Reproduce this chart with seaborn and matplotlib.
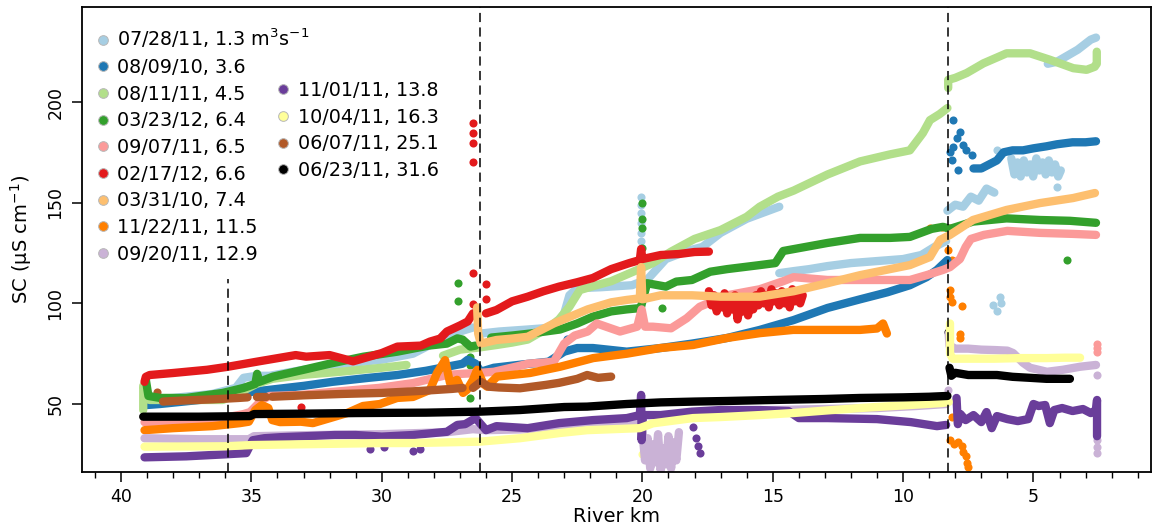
import numpy as np
import pandas as pd
import matplotlib
matplotlib.use("Agg")
import matplotlib.pyplot as plt
from matplotlib.lines import Line2D
import seaborn as sns

NaN = np.nan

# Survey dates and discharge (m3/s) for each longitudinal SC profile
survey_dates = ["07/28/11", "08/09/10", "08/11/11", "03/23/12", "09/07/11", "02/17/12",
                "03/31/10", "11/22/11", "09/20/11", "11/01/11", "10/04/11", "06/07/11", "06/23/11"]
discharge = ["1.3", "3.6", "4.5", "6.4", "6.5", "6.6", "7.4", "11.5", "12.9", "13.8", "16.3", "25.1", "31.6"]

# Profiles: river km and specific conductance (uS/cm); NaN separates gaps in a survey
lblue_km = [39.1, 38.0, 36.5, 35.6, 35.3, 34.8, 34.3, 33.0, 31.5, 30.0, 28.8, 27.6, 27.0, 26.5, NaN,
            26.2, 25.5, 24.4, 23.4, 23.0, 22.8, 22.5, 21.6, 20.4, 19.8, 19.1, 18.3, 17.7, 17.0, 16.0, 14.75, NaN,
            14.75, 14.2, 13.6, 12.9, 12.0, 11.0, 10.0, 9.3, 8.8, 8.35, NaN,
            8.3, 8.0, 7.7, 7.4, 7.1, 6.8, 6.5, NaN,
            5.85, 5.73, 5.61, 5.49, 5.37, 5.25, 5.13, 5.01, 4.89, 4.77, 4.65, 4.53, 4.41, 4.29, 4.17,
            4.05, 3.95, NaN,
            4.45, 4.1, 3.7, 3.3, 3.0, 2.8, 2.6]
lblue_sc = [52, 53, 55, 58, 63, 64, 64, 67, 70, 72, 75, 83, 86, 88, NaN,
            85, 86, 87, 88, 95, 104, 107.5, 108, 109, 112, 122, 126, 128, 135, 142, 148, NaN,
            115, 116, 117, 118.5, 120, 121, 122, 124, 128, 131, NaN,
            146, 149, 148, 153, 151, 157, 155, NaN,
            172, 164, 170, 163, 171, 165, 169, 163, 172, 166, 170, 164, 171, 165, 169,
            163, 166, NaN,
            219, 220, 223, 226, 229, 231, 232]
lblue_pts_km = [20.05, 20.05, 20.05, 20.05, 20.05, 20.05, 6.4, 4.1, 6.55, 6.4, 6.25, 6.3]
lblue_pts_sc = [153, 149, 145, 140, 135, 131, 176, 158, 99, 96, 100, 103]

blue_km = [39.0, 38.5, 37.0, 35.9, 35.0, 34.0, 33.0, 31.9, 30.5, 29.4, 28.3, 27.5, 26.9, 26.7, 26.4, 26.2,
           25.7, 24.7, 23.6, 23.0, 22.5, 21.9, 20.6, 19.3, 18.1, 16.75, 15.5, 14.2, 12.9, 11.65, 10.6, 9.74,
           9.1, 8.7, 8.3, NaN,
           7.3, 7.0, 6.7, 6.4, 6.15, 5.8, 5.4, 5.0, 4.5, 4.1, 3.5, 3.0, 2.6]
blue_sc = [49.5, 50, 52, 53, 56, 57.5, 59, 61, 63, 64.4, 66.5, 68.5, 70, 72, 70, 66,
           68, 69.5, 71, 76, 77.8, 77.8, 76, 77.8, 80, 82.8, 86.8, 91.7, 97.7, 102, 105.5, 109,
           113, 116.6, 121.5, NaN,
           167, 167, 169, 171, 175, 176, 176, 177, 178, 179, 180, 180, 180.5]
blue_pts_km = [22.9, 23.15, 8.09, 7.82, 8.09, 7.7, 8.12, 7.89, 7.36, 7.95, 7.6, 8.2]
blue_pts_sc = [82.5, 76, 191, 185.3, 177.8, 178.5, 171, 166, 173.7, 182, 176, 175]

lgreen_km = [39.15, 39.15, 38.9, 37.5, 36.1, 35.4, 34.8, 34.2, 33.0, 31.6, 30.0, 29.05, NaN,
             27.65, 27.0, 26.3, 25.6, 25.0, 24.4, 23.6, 23.2, 22.8, 22.4, 21.9, 21.2, 20.3, 19.6, 18.9,
             18.0, 17.0, 16.0, 15.5, 14.8, 14.2, 12.9, 11.65, 10.5, 9.74, 9.24, 8.97, 8.6, 8.3, NaN,
             8.27, 8.27, 8.0, 7.56, 6.92, 6.03, 5.13, 4.37, 3.47, 2.96, 2.65, 2.57, 2.57]
lgreen_sc = [47, 59, 52, 52, 52, 56, 60, 62.5, 64.5, 66, 68, 69.4, NaN,
             74, 77, 78, 79.3, 80.5, 82, 88, 92, 98.3, 106.6, 108.5, 111, 116, 120, 125.7,
             132, 136.4, 143, 148, 153, 156, 164, 170.5, 174, 176, 184.6, 191, 194, 197, NaN,
             207, 211, 212, 214.4, 219.2, 224.2, 224.2, 221, 216.8, 216, 217.5, 219, 225]

green_km = [39.05, 38.95, 38.5, 37.5, 36.1, 35.3, 34.85, 34.78, 34.7, 34.17, 33.0, 32.0, 30.7, 29.4, 28.2,
            27.5, 27.1, 26.9, 26.6, 26.4, NaN,
            25.8, 25.0, 24.3, 23.16, 22.5, 21.9, 21.2, 20.6, 20.2, 20.08, 19.82, 19.1, 18.7, 18.1, 17.4,
            16.75, 15.5, 14.9, 14.6, 12.9, 11.65, 10.5, 9.74, 8.9, 8.47, 8.2, 7.32, 6.03, 4.75, 3.6, 2.6]
green_sc = [62, 54, 53, 53, 55.5, 58, 60, 65, 61, 63.6, 67, 70, 73.5, 76, 79,
            80, 82.6, 82, 78.5, 79, NaN,
            83, 84, 85, 87, 90, 93.4, 96, 97, 97.5, 97, 110, 108.3, 110.8, 111.6, 115.7,
            117, 119, 120, 126, 130, 132.5, 132.5, 133, 137, 138, 137, 140.6, 142.2, 141.4, 141, 140]
green_pts_km = [27.06, 27.06, 26.61, 26.61, 26.61, 20.03, 20.03, 20.03, 20.03, 19.25, 3.71]
green_pts_sc = [110, 101.3, 73.2, 69.4, 52.8, 149.8, 142, 137.4, 127.5, 97.7, 121.5]

pink_km = [39.1, 37.0, 35.9, 35.3, 35.05, 34.6, 34.3, 33.1, 31.9, 30.1, 28.8, 27.5, 26.9, 26.3, 25.7,
           24.7, 24.4, 23.4, 23.0, 22.6, 22.1, 21.75, 20.86, 20.2, 20.03, 19.9, 19.6, 18.9, 18.3, 17.8,
           17.3, 16.75, 15.5, 14.6, 14.2, 12.9, 11.65, 9.74, 9.1, 8.47, 8.2, 7.82, 7.6, 7.4, 6.9, 6.0,
           4.75, 3.5, 2.6]
pink_sc = [41, 42, 43.5, 45, 46, 52, 54, 54.5, 56, 58, 60.4, 64.4, 65, 65.4, 66,
           69, 70, 71, 80, 84, 86, 90, 86, 88.4, 97, 88.4, 88.4, 87.6, 92.6, 98.3,
           101, 104, 107, 111, 113, 111.6, 111.6, 111.6, 114, 116.6, 118, 122, 128, 132, 134, 136,
           135, 134.5, 134]
pink_pts_km = [2.56, 2.56, 2.56]
pink_pts_sc = [80, 78, 76]

red_km = [39.1, 39.05, 38.9, 38.0, 36.7, 35.9, 34.8, 33.3, 32.9, 32.0, 31.1, 30.0, 29.4, 28.5, 28.15,
          27.76, 27.5, 27.0, 26.7, 26.5, NaN,
          26.0, 25.6, 25.0, 24.4, 23.8, 23.2, 22.5, 21.9, 21.2, 20.5, 20.1, 20.05, 20.0, 19.3, 18.6,
          18.0, 17.45, NaN,
          17.45, 17.35, 17.25, 17.15, 17.05, 16.95, 16.85, 16.75, 16.65, 16.55, 16.45, 16.35, 16.25,
          16.15, 16.05, 15.95, 15.85, 15.75, 15.65, 15.55, 15.45, 15.35, 15.25, 15.15, 15.05, 14.95,
          14.85, 14.75, 14.65, 14.55, 14.45, 14.35, 14.25, 14.15, 14.05, 13.95, 13.85]
red_sc = [61, 63.5, 64.4, 65.4, 67, 68.5, 71, 74.3, 73.5, 74.3, 71.2, 75.3, 78.5, 79, 81,
          82.5, 86, 89, 91, 95, NaN,
          95, 96.7, 101, 103.3, 106, 108.3, 110.5, 112.6, 117, 120, 121.5, 127, 122, 124, 124.5,
          125.5, 125.7, NaN,
          106, 99, 104, 96, 102, 98, 105, 95, 101, 97, 104, 92, 100,
          96, 103, 94, 101, 97, 104, 99, 106, 100, 104, 98, 107, 101,
          105, 99, 106, 100, 104, 98, 107, 101, 105, 100, 104]
red_pts_km = [26.49, 26.49, 26.49, 26.49, 26.49, 26.49, 26.0, 26.0, 33.1, 20.03]
red_pts_sc = [189.7, 184.5, 179.5, 170.4, 115.2, 99.7, 109.5, 102, 48.7, 118]

lorange_km = [26.34, 26.3, 26.2, 25.6, 25.0, 24.4, 23.4, 22.1, 21.2, 20.6, 20.1, 20.05, 20.0, 19.3,
              18.1, 17.0, 15.5, 14.2, 12.9, 11.65, 9.74, 8.97, 8.58, 8.2, 7.32, 6.03, 4.75, 3.48, 2.64]
lorange_sc = [98, 85, 80, 81.8, 82.5, 83.4, 90, 97, 100.5, 101.7, 102.5, 118, 102, 104,
              104, 103.3, 103.3, 106, 110, 114, 119, 123, 131.5, 134, 141.4, 146.4, 149.8, 152.3, 154.8]

orange_km = [39.1, 38.0, 36.5, 35.44, 35.1, 34.85, 34.6, 34.35, 34.2, 33.9, 33.1, 32.64, 31.98, 31.33,
             30.72, 30.07, 29.41, 28.8, 28.15, 27.88, 27.57, 27.38, 27.11, 26.88, 26.73, 26.5, 26.34,
             26.1, 25.96, 25.58, 24.31, 23.16, 21.89, 20.59, 19.32, 18.06, 16.75, 15.49, 14.22, 12.92,
             11.65, 11.0, 10.77, 10.62]
orange_sc = [37, 38, 39, 40.5, 41.2, 47, 49.5, 48, 42, 41, 41.2, 40.5, 43, 45.5,
             49, 50, 53, 53.5, 57, 65.4, 71.8, 60.4, 62, 55.5, 57, 62, 67,
             60, 58.6, 63.6, 65.4, 68.5, 72.8, 75, 77.8, 79.3, 82.8, 85.2, 86.8, 86.8,
             86.8, 87.5, 90, 85]
orange_pts_km = [8.97, 8.5, 8.2, 8.27, 8.12, 8.2, 8.2, 8.14, 7.73, 7.82, 7.82, 8.12, 8.2, 8.05,
                 7.9, 7.75, 7.7, 7.6, 7.55, 7.5]
orange_pts_sc = [137.3, 138, 137.3, 126.5, 121.5, 106.6, 103, 100.8, 98.7, 85, 83, 43.5, 32, 30,
                 31, 29, 26, 24, 20.5, 18.5]

lav_km = [39.1, 37.0, 35.1, 34.9, 33.0, 30.0, 27.5, 26.5, 26.0, 24.3, 22.0, 20.1, NaN,
          20.0, 19.9, 19.8, 19.7, 19.6, 19.5, 19.4, 19.3, 19.2, 19.1, 19.0, 18.9, 18.8, 18.7, 18.6, NaN,
          18.5, 17.0, 15.0, 13.0, 11.0, 9.5, 8.35, NaN,
          8.25, 8.22, 8.0, 7.5, 7.0, 6.5, 6.0, 5.78, 5.4, 5.13, 4.48, 3.87, 3.21, 2.6]
lav_sc = [33, 32.5, 32.5, 34, 34.5, 35, 36, 37.5, 37, 37.5, 39, 40, NaN,
          36, 22, 33, 18, 30, 21, 35, 17, 28, 20, 34, 18, 31, 22, 36, NaN,
          45, 46.5, 47, 47.5, 48, 49, 50, NaN,
          85, 79, 77.5, 77.5, 77, 76.8, 76.5, 75.3, 70.5, 68, 66, 67, 68.5, 69.4]
lav_pts_km = [2.56, 2.56, 2.56, 2.56, 8.27]
lav_pts_sc = [64.4, 32, 28.5, 25.6, 57]

purple_km = [39.1, 37.5, 36.0, 35.2, 34.95, 34.5, 33.9, 32.9, 31.8, 31.0, 30.0, 28.8, 27.5, 27.1, 26.8,
             26.4, 26.0, 25.6, 24.4, 23.2, 21.9, 20.6, 20.1, 20.05, 20.03, 19.98, 19.3, 18.1, 17.0, 15.5,
             14.4, 14.0, 12.9, 11.0, 9.7, 8.7, 8.35, NaN,
             7.95, 7.9, 7.8, 7.6, 7.3, 7.0, 6.8, 6.6, 6.4, 6.0, 5.6, 5.2, 5.0, 4.8, 4.55, 4.37, 4.2,
             3.9, 3.5, 3.1, 2.8, 2.6, 2.56, 2.56]
purple_sc = [23.5, 24, 25, 25.6, 32, 33, 33.5, 34, 34.6, 34.6, 33.8, 34.6, 36.2, 39.6, 40,
             43, 37, 39, 38, 40.5, 42, 43, 44.5, 54.5, 32, 44.5, 44.5, 46.2, 47, 47,
             46.5, 43, 43, 42.5, 41, 39, 39.6, NaN,
             53, 40, 45, 42, 44.5, 41, 46, 38, 44, 42.5, 41.5, 42.5, 50, 49, 49.5, 40.5, 47,
             48, 46.5, 47.5, 45.5, 47, 52, 34]
purple_pts_km = [30.45, 29.9, 28.8, 28.55, 18.06, 17.95, 17.85, 17.79]
purple_pts_sc = [27.5, 28.5, 26.5, 27.5, 38.6, 33, 29, 25.6]

yellow_km = [39.1, 36.0, 35.0, 33.0, 30.0, 28.8, 26.23, 24.7, 23.16, 22.12, 20.1, 19.6, 18.06, 17.02,
             15.49, 14.22, 12.92, 11.65, 9.74, 8.5, 8.25, NaN,
             8.2, 8.2, 8.1, 7.5, 6.5, 5.5, 4.5, 3.8, 3.21]
yellow_sc = [28.8, 29, 29.6, 30, 30.6, 30.6, 31.3, 33, 35.6, 37, 38, 40.4, 43, 43.5,
             44.5, 45.5, 46.8, 48, 49.5, 50.5, 51, NaN,
             90, 75, 72.5, 72.5, 72.5, 72.8, 72.8, 73, 73]
yellow_pts_km = [20.03]
yellow_pts_sc = [25.2]

brown_km = [38.39, 37.5, 36.5, 35.5, 35.15, NaN, 34.8, 34.45, NaN,
            34.2, 33.0, 31.5, 30.0, 28.5, 27.3, 26.9, NaN,
            26.5, 26.2, 25.9, 25.5, 24.7, 23.7, 23.2, 22.5, 22.12, 21.7, 21.2]
brown_sc = [51.2, 51.8, 52.3, 53, 53.3, NaN, 53.5, 53.5, NaN,
            53.6, 54.3, 55, 55.5, 56.5, 57.5, 58, NaN,
            58, 61, 58.6, 58.2, 57.8, 59.5, 60.5, 62.5, 64.4, 63, 63.6]
brown_pts_km = [38.62]
brown_pts_sc = [56]

black_km = [39.15, 37.0, 35.05, 34.9, 33.0, 31.0, 28.3, 26.23, 24.7, 23.0, 22.12, 20.6, 19.3, 18.0,
            16.75, 15.0, 13.0, 11.65, 10.0, 9.0, 8.3, NaN,
            8.22, 8.15, 8.0, 7.5, 7.0, 6.4, 5.8, 5.13, 4.5, 4.0, 3.6]
black_sc = [43.7, 43.7, 44, 45, 45.2, 45.5, 45.7, 46.2, 47, 48.5, 48.7, 50, 50.8, 51.2,
            51.5, 52, 52.5, 53, 53.3, 53.6, 54, NaN,
            68, 64, 65.5, 64.4, 64.4, 64.4, 63.5, 63, 62.5, 62.5, 62.5]
black_pts_km = [8.27]
black_pts_sc = [86]

# Reach boundaries (river km); the first marker stops at SC = 112
boundary_km = [35.9, 26.23, 8.28]
boundary_top = [112, None, None]

profiles = [
    (lblue_km, lblue_sc, lblue_pts_km, lblue_pts_sc),
    (blue_km, blue_sc, blue_pts_km, blue_pts_sc),
    (lgreen_km, lgreen_sc, [], []),
    (green_km, green_sc, green_pts_km, green_pts_sc),
    (pink_km, pink_sc, pink_pts_km, pink_pts_sc),
    (red_km, red_sc, red_pts_km, red_pts_sc),
    (lorange_km, lorange_sc, [], []),
    (orange_km, orange_sc, orange_pts_km, orange_pts_sc),
    (lav_km, lav_sc, lav_pts_km, lav_pts_sc),
    (purple_km, purple_sc, purple_pts_km, purple_pts_sc),
    (yellow_km, yellow_sc, yellow_pts_km, yellow_pts_sc),
    (brown_km, brown_sc, brown_pts_km, brown_pts_sc),
    (black_km, black_sc, black_pts_km, black_pts_sc),
]

sns.set_theme(style="ticks")
plt.rcParams["font.family"] = ["DejaVu Sans"]
plt.rcParams["mathtext.fontset"] = "dejavusans"
plt.rcParams["text.color"] = "black"
plt.rcParams["axes.labelcolor"] = "black"
plt.rcParams["xtick.color"] = "black"
plt.rcParams["ytick.color"] = "black"

colors = sns.color_palette("Paired", 12) + [(0, 0, 0)]

YMIN, YMAX = 16.37, 247.2
fig = plt.figure(figsize=(11.52, 5.31), dpi=100)
ax = fig.add_axes([81.7 / 1152, 1 - 471.7 / 531, (1151 - 81.7) / 1152, (471.7 - 7) / 531])

LW = 6.0
for (km, sc, pkm, psc), col in zip(profiles, colors):
    df = pd.DataFrame({"km": km, "sc": sc})
    df["seg"] = df["sc"].isna().cumsum()
    df = df.dropna()
    sns.lineplot(data=df, x="km", y="sc", units="seg", estimator=None, sort=False,
                 color=col, lw=LW, solid_capstyle="round", solid_joinstyle="round",
                 legend=False, ax=ax)
    if len(pkm):
        pts = pd.DataFrame({"km": pkm, "sc": psc})
        sns.scatterplot(data=pts, x="km", y="sc", color=col, s=34, linewidth=0,
                        legend=False, ax=ax)

for xk, top in zip(boundary_km, boundary_top):
    ymax = 1.0 if top is None else (top - YMIN) / (YMAX - YMIN)
    ax.axvline(xk, ymin=0, ymax=ymax, color="black", lw=1.1, ls=(0, (6, 3.5)), zorder=5)

ax.set_xlim(41.51, 0.49)
ax.set_ylim(YMIN, YMAX)
ax.set_xticks([40, 35, 30, 25, 20, 15, 10, 5])
ax.set_xticks(np.arange(1, 42, 1), minor=True)
ax.set_yticks([50, 100, 150, 200])
ax.tick_params(axis="both", which="major", direction="out", length=7, width=1.1,
               labelsize=12.5, color="black", labelcolor="black")
ax.tick_params(axis="x", which="minor", direction="out", length=4, width=1.0, color="black")
ax.tick_params(axis="x", which="major", pad=5)
ax.tick_params(axis="y", which="major", pad=5.5)
for lab in ax.get_yticklabels():
    lab.set_rotation(90)
    lab.set_va("center")
for s in ax.spines.values():
    s.set_visible(True)
    s.set_linewidth(1.3)
    s.set_color("black")

ax.set_xlabel("River km", fontsize=14, color="black")
ax.set_ylabel("SC (µS cm$^{-1}$)", fontsize=14, color="black")
ax.xaxis.set_label_coords(0.5, -0.077)
ax.yaxis.set_label_coords(-0.045, 0.5)

labels = [f"{d}, {q}" for d, q in zip(survey_dates, discharge)]
labels[0] = labels[0] + " m$^3$s$^{-1}$"
handles = [Line2D([0], [0], marker="o", ls="none", markersize=7.0, markerfacecolor=c,
                  markeredgecolor="0.72", markeredgewidth=0.7) for c in colors]

LEG_FS = 13.8
leg_kw = dict(loc="upper left", frameon=False, fontsize=LEG_FS, handlelength=1.0,
              handletextpad=0.245, labelspacing=0.40, borderpad=0, borderaxespad=0,
              labelcolor="black")
leg1 = ax.legend(handles[:9], labels[:9], bbox_to_anchor=(0.0107, 0.957), **leg_kw)
ax.add_artist(leg1)
ax.legend(handles[9:], labels[9:], bbox_to_anchor=(0.1796, 0.841), **leg_kw)

fig.savefig("out.png", dpi=100)
